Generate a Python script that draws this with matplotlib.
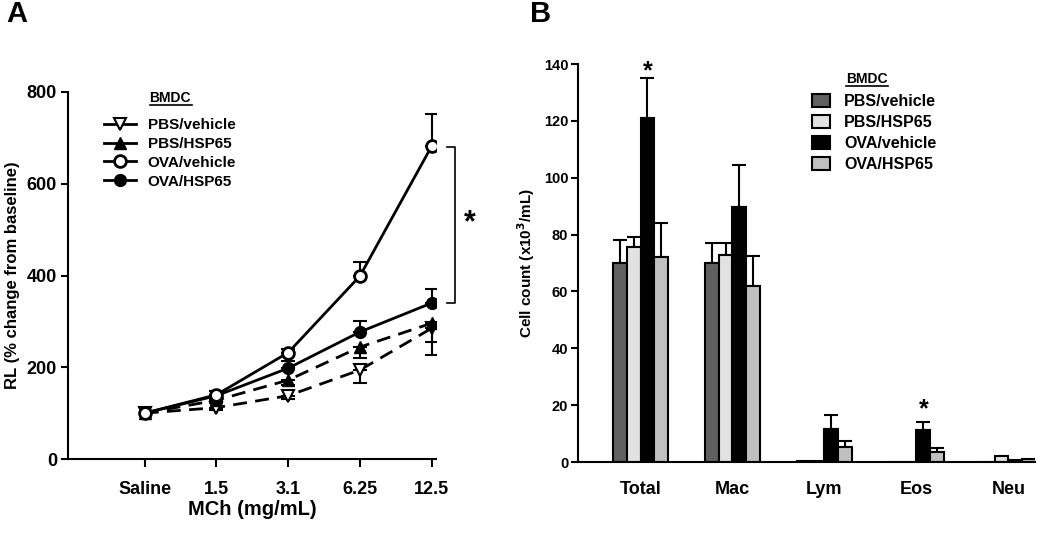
import matplotlib
matplotlib.use("Agg")
import matplotlib.pyplot as plt
import numpy as np
from matplotlib.lines import Line2D
from matplotlib.patches import Patch

plt.rcParams['font.family'] = ['Liberation Sans', 'DejaVu Sans']
plt.rcParams['font.weight'] = 'bold'

# ---------------- Panel A data ----------------
doses = ['Saline', '1.5', '3.1', '6.25', '12.5']
pbs_veh = [100, 112, 138, 194, 285]
pbs_veh_err = [0, 5, 8, 28, 58]          # drawn downward
pbs_hsp = [100, 128, 172, 244, 296]
pbs_hsp_err = [0, 5, 10, 24, 41]         # drawn downward
ova_veh = [100, 140, 232, 399, 682]
ova_veh_err = [0, 8, 8, 30, 70]          # drawn upward
ova_hsp = [100, 138, 198, 277, 340]
ova_hsp_err = [0, 10, 15, 24, 30]        # drawn upward

# ---------------- Panel B data ----------------
cells = ['Total', 'Mac', 'Lym', 'Eos', 'Neu']
groups = ['PBS/vehicle', 'PBS/HSP65', 'OVA/vehicle', 'OVA/HSP65']
b_pbs_veh = [70, 70, 0.3, 0, 0]
b_pbs_veh_err = [8, 7, 0, 0, 0]
b_pbs_hsp = [75.6, 72.8, 0.3, 0, 2.2]
b_pbs_hsp_err = [3.7, 4.4, 0, 0, 0]
b_ova_veh = [121, 89.6, 11.6, 11.2, 0.8]
b_ova_veh_err = [14, 15, 5, 3, 0]
b_ova_hsp = [72, 62, 5.4, 3.6, 1.2]
b_ova_hsp_err = [12, 10.5, 2, 1.2, 0]
bar_colors = ['#606060', '#e2e2e2', '#000000', '#c0c0c0']

fig = plt.figure(figsize=(10.5, 5.41), dpi=100)

# ================= Panel A =================
axA = fig.add_axes([68/1050, (541-459)/541, 368/1050, 367/541])
x = np.arange(len(doses))
lw = 2
ms = 8.5


def draw_series(ax, vals, errs, up, ls, marker, mfc, mew, zo):
    vals = np.array(vals, dtype=float)
    errs = np.array(errs, dtype=float)
    m = errs > 0
    zeros = np.zeros(m.sum())
    yerr = [zeros, errs[m]] if up else [errs[m], zeros]
    ax.errorbar(x[m], vals[m], yerr=yerr, fmt='none', ecolor='black', elinewidth=1.5,
                capsize=5, capthick=1.5, zorder=zo)
    ax.plot(x, vals, color='black', lw=lw, ls=ls, marker=marker, mfc=mfc, mec='black',
            mew=mew, ms=ms, zorder=zo)


draw_series(axA, pbs_veh, pbs_veh_err, False, (0, (5, 3)), 'v', 'white', 1.5, 3)
draw_series(axA, pbs_hsp, pbs_hsp_err, False, (0, (5, 3)), '^', 'black', 1.0, 3)
draw_series(axA, ova_hsp, ova_hsp_err, True, '-', 'o', 'black', 1.0, 4)
draw_series(axA, ova_veh, ova_veh_err, True, '-', 'o', 'white', 2.0, 5)

axA.set_xlim(-1.07, 4.06)
axA.set_ylim(0, 800)
axA.set_yticks([0, 200, 400, 600, 800])
axA.set_xticks(x)
axA.set_xticklabels(doses)
axA.spines['top'].set_visible(False)
axA.spines['right'].set_visible(False)
for s in ['left', 'bottom']:
    axA.spines[s].set_linewidth(1.5)
axA.tick_params(axis='y', direction='out', length=5, width=1.5, labelsize=13, pad=3)
axA.tick_params(axis='x', direction='out', length=6, width=1.5, labelsize=13, pad=10)
for lab in axA.get_xticklabels() + axA.get_yticklabels():
    lab.set_fontweight('bold')
axA.set_xlabel('MCh (mg/mL)', fontsize=14.5, fontweight='bold', labelpad=1)
axA.set_ylabel('RL (% change from baseline)', fontsize=12, fontweight='bold', labelpad=5)

# significance bracket
axA.plot([4.22, 4.33, 4.33, 4.22], [680, 680, 340, 340], color='black', lw=1.2,
         clip_on=False)
axA.text(4.53, 513, '*', fontsize=22, fontweight='bold', ha='center', va='center')

# legend A
handlesA = [
    Line2D([], [], color='black', lw=lw, marker='v', mfc='white', mec='black', mew=1.5, ms=ms),
    Line2D([], [], color='black', lw=lw, marker='^', mfc='black', mec='black', ms=ms),
    Line2D([], [], color='black', lw=lw, marker='o', mfc='white', mec='black', mew=2, ms=ms),
    Line2D([], [], color='black', lw=lw, marker='o', mfc='black', mec='black', ms=ms),
]
legA = axA.legend(handlesA, ['PBS/vehicle', 'PBS/HSP65', 'OVA/vehicle', 'OVA/HSP65'],
                  loc='upper left', bbox_to_anchor=(104/1050, 1 - 118/541),
                  bbox_transform=fig.transFigure, frameon=False,
                  prop={'weight': 'bold', 'size': 11}, handlelength=2.1,
                  handletextpad=0.75, labelspacing=0.32, borderpad=0, borderaxespad=0)
fig.text(170/1050, 1 - 98/541, 'BMDC', fontsize=10, fontweight='bold', ha='center',
         va='center')
fig.add_artist(Line2D([150/1050, 192/1050], [1 - 105/541, 1 - 105/541], color='black',
                      lw=1.2))

fig.text(6/1050, 1 - 14/541, 'A', fontsize=21, fontweight='bold', ha='left', va='center')

# ================= Panel B =================
axB = fig.add_axes([578/1050, (541-462)/541, 457/1050, 398/541])
xb = np.arange(len(cells))
w = 0.15
series = [(b_pbs_veh, b_pbs_veh_err), (b_pbs_hsp, b_pbs_hsp_err),
          (b_ova_veh, b_ova_veh_err), (b_ova_hsp, b_ova_hsp_err)]
for i, (vals, errs) in enumerate(series):
    pos = xb - 0.3 + w * i + w / 2
    axB.bar(pos, vals, width=w, color=bar_colors[i], edgecolor='black', linewidth=1.5,
            zorder=2)
    errs_arr = np.array(errs)
    mask = errs_arr > 0
    axB.errorbar(pos[mask], np.array(vals)[mask],
                 yerr=[np.zeros(mask.sum()), errs_arr[mask]], fmt='none', ecolor='black',
                 elinewidth=1.5, capsize=5, capthick=1.5, zorder=1)

axB.set_xlim(-0.68, 4.29)
axB.set_ylim(0, 140)
axB.set_yticks(np.arange(0, 141, 20))
axB.set_xticks(xb)
axB.set_xticklabels(cells)
axB.spines['top'].set_visible(False)
axB.spines['right'].set_visible(False)
for s in ['left', 'bottom']:
    axB.spines[s].set_linewidth(1.5)
axB.tick_params(axis='y', direction='out', length=5, width=1.5, labelsize=10.5, pad=2)
axB.tick_params(axis='x', length=0, labelsize=13, pad=14)
for lab in axB.get_xticklabels() + axB.get_yticklabels():
    lab.set_fontweight('bold')
axB.set_ylabel('Cell count (x10$^{\\mathbf{3}}$/mL)', fontsize=11, fontweight='bold',
               labelpad=5)

axB.text(0.075, 137.5, '*', fontsize=18, fontweight='bold', ha='center', va='center')
axB.text(3.075, 18.5, '*', fontsize=18, fontweight='bold', ha='center', va='center')

handlesB = [Patch(facecolor=c, edgecolor='black', linewidth=1.5) for c in bar_colors]
legB = axB.legend(handlesB, groups, loc='upper left',
                  bbox_to_anchor=(812/1050, 1 - 94/541), bbox_transform=fig.transFigure,
                  frameon=False, prop={'weight': 'bold', 'size': 11.5}, handlelength=1.15,
                  handleheight=0.85, handletextpad=0.85, labelspacing=0.38, borderpad=0,
                  borderaxespad=0)
fig.text(867/1050, 1 - 79/541, 'BMDC', fontsize=10, fontweight='bold', ha='center',
         va='center')
fig.add_artist(Line2D([846/1050, 888/1050], [1 - 86/541, 1 - 86/541], color='black',
                      lw=1.2))

fig.text(530/1050, 1 - 14/541, 'B', fontsize=21, fontweight='bold', ha='left', va='center')

fig.savefig('out.png', dpi=100)
